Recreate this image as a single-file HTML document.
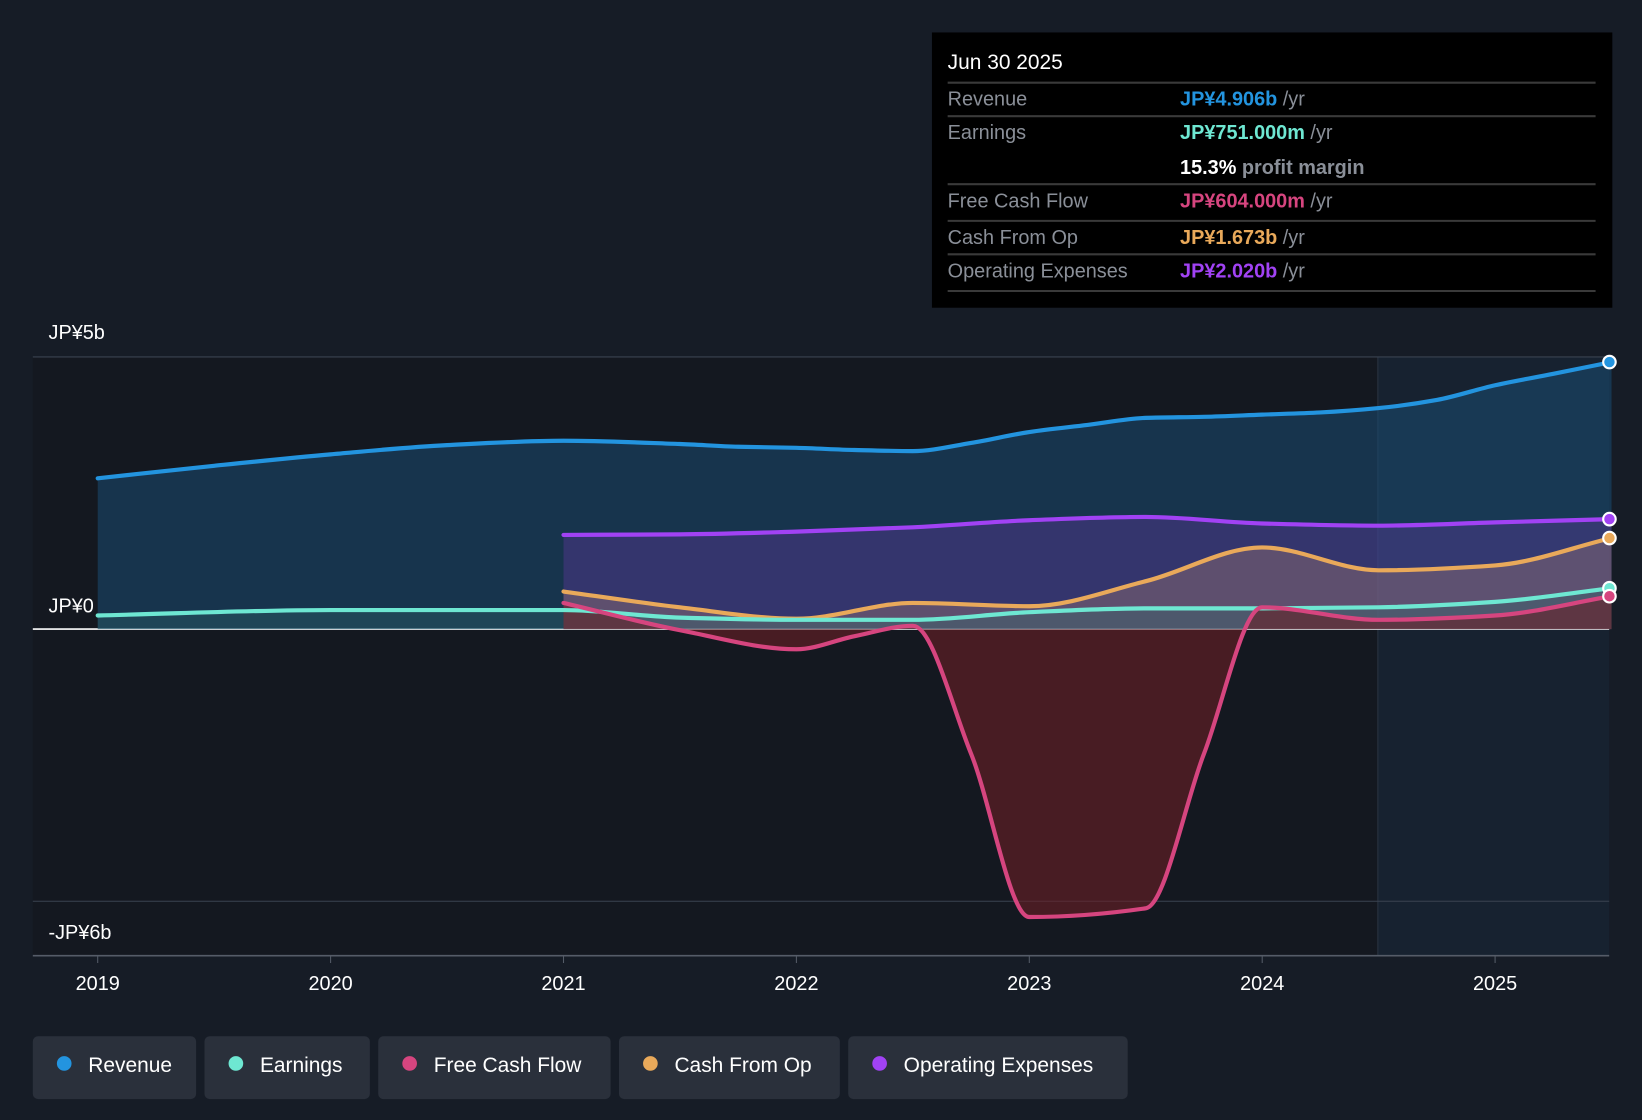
<!DOCTYPE html>
<html><head><meta charset="utf-8"><style>
html,body{margin:0;padding:0;background:#161c26;}
svg{display:block;font-family:"Liberation Sans",sans-serif;}
</style></head><body>
<svg id="chart" width="1642" height="1120" viewBox="0 0 1568 1070">
<rect x="0" y="0" width="1568" height="1070" fill="#161c26"/>
<rect x="31" y="341" width="1285" height="572" fill="#141820"/>
<rect x="1316" y="341" width="221" height="572" fill="#172230"/>
<line x1="1316" y1="341" x2="1316" y2="913" stroke="#2a3442"/>
<g id="grid"></g>
<g id="areas"></g>
<g id="lines"></g>
<g id="axis"></g>
<g>
<rect x="890" y="31" width="650" height="263" fill="#000"/>
<text x="905" y="66" fill="#fff" font-size="20">Jun 30 2025</text>
<g stroke="#3a3a3a" stroke-width="2">
<line x1="905" y1="79" x2="1524" y2="79"/><line x1="905" y1="111" x2="1524" y2="111"/>
<line x1="905" y1="176" x2="1524" y2="176"/><line x1="905" y1="211" x2="1524" y2="211"/>
<line x1="905" y1="243" x2="1524" y2="243"/><line x1="905" y1="278" x2="1524" y2="278"/></g>
<g font-size="19" fill="#8a8f98">
<text x="905" y="101">Revenue</text><text x="905" y="133">Earnings</text>
<text x="905" y="198">Free Cash Flow</text><text x="905" y="233">Cash From Op</text>
<text x="905" y="265">Operating Expenses</text></g>
<g font-size="19" font-weight="bold">
<text x="1127" y="101" fill="#2394df">JP¥4.906b <tspan fill="#8a8f98" font-weight="normal">/yr</tspan></text>
<text x="1127" y="133" fill="#6ee7d2">JP¥751.000m <tspan fill="#8a8f98" font-weight="normal">/yr</tspan></text>
<text x="1127" y="166" fill="#fff">15.3% <tspan fill="#8a8f98">profit margin</tspan></text>
<text x="1127" y="198" fill="#d6457f">JP¥604.000m <tspan fill="#8a8f98" font-weight="normal">/yr</tspan></text>
<text x="1127" y="233" fill="#e9a95a">JP¥1.673b <tspan fill="#8a8f98" font-weight="normal">/yr</tspan></text>
<text x="1127" y="265" fill="#a142f4">JP¥2.020b <tspan fill="#8a8f98" font-weight="normal">/yr</tspan></text>
</g></g>
<g id="legend"></g>
</svg>
<script>
const revT=[2019,2019.5,2020,2020.5,2021,2021.5,2021.75,2022,2022.25,2022.5,2022.75,2023,2023.25,2023.5,2023.75,2024,2024.25,2024.5,2024.75,2025,2025.25,2025.5];
const revV=[2.77,3.0,3.21,3.38,3.46,3.40,3.35,3.33,3.29,3.27,3.42,3.62,3.75,3.88,3.90,3.94,3.98,4.06,4.21,4.48,4.69,4.906];
const earnT=[2019,2020,2021,2021.5,2022,2022.5,2023,2023.5,2024,2024.5,2025,2025.5];
const earnV=[0.25,0.35,0.35,0.21,0.17,0.17,0.31,0.38,0.38,0.40,0.5,0.751];
const fcfT=[2021,2021.5,2022,2022.25,2022.5,2022.75,2023,2023.5,2023.75,2024,2024.5,2025,2025.5];
const fcfV=[0.48,-0.02,-0.37,-0.13,0.06,-2.29,-5.29,-5.13,-2.29,0.4,0.17,0.25,0.604];
const cfoT=[2021,2021.5,2022,2022.5,2023,2023.5,2024,2024.5,2025,2025.5];
const cfoV=[0.69,0.40,0.19,0.48,0.42,0.88,1.5,1.08,1.17,1.673];
const opxT=[2021,2021.5,2022,2022.5,2023,2023.5,2024,2024.5,2025,2025.5];
const opxV=[1.73,1.74,1.79,1.87,2.0,2.06,1.94,1.90,1.96,2.02];
const yearTicks=[2019,2020,2021,2022,2023,2024,2025];
const yTickVals=[5,0,-5];
const NS='http://www.w3.org/2000/svg';
const X=t=>93+(t-2019)*222.5;
const Y=v=>601-v*52;
function mk(tag,attrs,parent){const e=document.createElementNS(NS,tag);for(const k in attrs)e.setAttribute(k,attrs[k]);parent.appendChild(e);return e;}
function curve(T,V){const x=T.map(X),y=V.map(Y),n=x.length;
const dl=[],m=[];for(let i=0;i<n-1;i++)dl.push((y[i+1]-y[i])/(x[i+1]-x[i]));
m[0]=dl[0];m[n-1]=dl[n-2];
for(let i=1;i<n-1;i++){if(dl[i-1]*dl[i]<=0)m[i]=0;else m[i]=2/(1/dl[i-1]+1/dl[i]);}
let d='M'+x[0]+','+y[0];
for(let i=0;i<n-1;i++){const h=(x[i+1]-x[i])/3;
d+=' C'+(x[i]+h)+','+(y[i]+m[i]*h)+' '+(x[i+1]-h)+','+(y[i+1]-m[i+1]*h)+' '+x[i+1]+','+y[i+1];}return d;}
const grid=document.getElementById('grid'),areas=document.getElementById('areas'),lines=document.getElementById('lines'),axis=document.getElementById('axis');
yTickVals.forEach(v=>{const l=mk('line',{x1:31,x2:1537,y1:Y(v),y2:Y(v),stroke:v===0?'#ffffff':'#3a4250','stroke-width':v===0?1.5:1},grid);

});
const series=[
{n:'revenue',T:revT,V:revV,c:'#2394df',fill:'#1a4d73',op:0.55},
{n:'operating-expenses',T:opxT,V:opxV,c:'#a142f4',fill:'#6a3aa8',op:0.35},
{n:'cash-from-op',T:cfoT,V:cfoV,c:'#e9a95a',fill:'#c08a70',op:0.3},
{n:'earnings',T:earnT,V:earnV,c:'#6ee7d2',fill:'#2d6b6a',op:0.35},
{n:'free-cash-flow',T:fcfT,V:fcfV,c:'#d6457f',fill:'#6b1f26',op:0.6}];
series.forEach(s=>{const d=curve(s.T,s.V);const t0=s.T[0],t1=s.T[s.T.length-1];
const a=mk('path',{d:d+' L'+X(t1)+','+Y(0)+' L'+X(t0)+','+Y(0)+' Z',fill:s.fill,'fill-opacity':s.op},areas);


const l=mk('path',{d:d,fill:'none',stroke:s.c,'stroke-width':4,'stroke-linecap':'round'},lines);


const c=mk('circle',{cx:X(t1)-2,cy:Y(s.V[s.V.length-1]),r:6,fill:s.c,stroke:'#fff','stroke-width':2},lines);

});
mk('line',{x1:31,x2:1537,y1:913,y2:913,stroke:'#555c68','stroke-width':1.5},axis);
yearTicks.forEach(y=>{const tk=mk('line',{x1:X(y),x2:X(y),y1:913,y2:920,stroke:'#555c68'},axis);


const t=mk('text',{x:X(y),y:946,fill:'#fff','font-size':19,'text-anchor':'middle'},axis);t.textContent=y;

});
[['JP¥5b',324],['JP¥0',585],['-JP¥6b',897]].forEach(([s,y])=>{const t=mk('text',{x:46,y:y,fill:'#fff','font-size':19},axis);t.textContent=s;

});
const leg=document.getElementById('legend');
const legItems=[['Revenue','#2394df',31,156],['Earnings','#6ee7d2',195,158],['Free Cash Flow','#d6457f',361,222],['Cash From Op','#e9a95a',591,211],['Operating Expenses','#a142f4',810,267]];
legItems.forEach(([n,c,x,w])=>{const g=mk('g',{},leg);


mk('rect',{x:x,y:990,width:w,height:60,rx:5,fill:'#2a303b'},g);
mk('circle',{cx:x+30,cy:1016,r:7,fill:c},g);
const t=mk('text',{x:x+53,y:1024,fill:'#fff','font-size':20},g);t.textContent=n;});
</script>
</body></html>
